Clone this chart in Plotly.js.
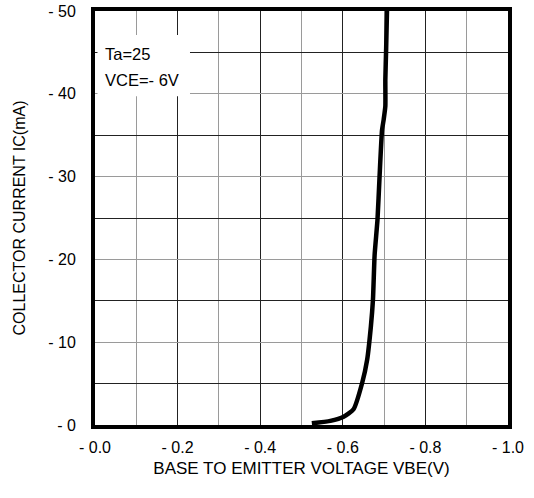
<!DOCTYPE html>
<html>
<head>
<meta charset="utf-8">
<script src="https://cdn.plot.ly/plotly-3.0.1.min.js"></script>
<style>html,body{margin:0;padding:0;background:#fff;}#chart{width:534px;height:498px;}</style>
</head>
<body>
<div id="chart"></div>
<script>
// Data
const vbe = [-0.525, -0.570, -0.602, -0.626, -0.647, -0.659, -0.668, -0.673, -0.677, -0.684, -0.689, -0.695, -0.699, -0.703, -0.703, -0.705, -0.707];
const ic  = [-0.2, -0.5, -1.0, -1.9, -5.1, -7.9, -11.9, -15.1, -20.5, -24.8, -30.0, -35.6, -36.9, -38.5, -41.7, -45.5, -50];

const xTickVals = [0, -0.2, -0.4, -0.6, -0.8, -1.0];
const xTickText = ["- 0.0", "- 0.2", "- 0.4", "- 0.6", "- 0.8", "- 1.0"];
const yTickVals = [0, -10, -20, -30, -40, -50];
const yTickText = ["- 0", "- 10", "- 20", "- 30", "- 40", "- 50"];

const xTitle = "BASE TO EMITTER VOLTAGE VBE(V)";
const yTitle = "COLLECTOR CURRENT IC(mA)";
const noteLines = ["Ta=25", "VCE=- 6V"];

const fam = "Liberation Sans, Arial, sans-serif";
const tickFont = {family: fam, size: 16, color: "#000"};

const trace = {
  x: vbe, y: ic, type: "scatter", mode: "lines",
  line: {color: "#000", width: 4.5, shape: "spline", smoothing: 0.5},
  hoverinfo: "skip", showlegend: false
};

const layout = {
  width: 534, height: 498,
  margin: {l: 95, r: 26, t: 11, b: 73},
  paper_bgcolor: "#fff", plot_bgcolor: "#fff",
  font: tickFont,
  showlegend: false,
  xaxis: {
    range: [0, -1], autorange: false,
    tickvals: xTickVals, ticktext: xTickText,
    tickfont: tickFont,
    ticks: "outside", ticklen: 5, tickcolor: "rgba(0,0,0,0)",
    showgrid: true, gridcolor: "#222", gridwidth: 1,
    minor: {dtick: 0.1, tick0: 0, showgrid: true, gridcolor: "#9a9a9a", gridwidth: 1},
    showline: true, linecolor: "#000", linewidth: 4, mirror: true,
    zeroline: false,
    title: {text: xTitle, font: {family: fam, size: 17, color: "#000"}, standoff: 8}
  },
  yaxis: {
    range: [0, -50], autorange: false,
    tickvals: yTickVals, ticktext: yTickText,
    tickfont: tickFont,
    ticks: "outside", ticklen: 12, tickcolor: "rgba(0,0,0,0)",
    showgrid: true, gridcolor: "#9a9a9a", gridwidth: 1,
    minor: {dtick: 5, tick0: 0, showgrid: true, gridcolor: "#222", gridwidth: 1},
    showline: true, linecolor: "#000", linewidth: 4, mirror: true,
    zeroline: false,
    title: {text: yTitle, font: {family: fam, size: 16, color: "#000"}, standoff: 20}
  },
  shapes: [{
    type: "rect", xref: "x", yref: "y", layer: "above",
    x0: -0.006, x1: -0.230, y0: -47.1, y1: -39.7,
    fillcolor: "#fff", line: {width: 0}
  }],
  annotations: [
    {x: -0.019, y: -44.8, xref: "x", yref: "y", text: noteLines[0], showarrow: false, xanchor: "left", yanchor: "middle", font: {family: fam, size: 16.5, color: "#000"}},
    {x: -0.019, y: -41.7, xref: "x", yref: "y", text: noteLines[1], showarrow: false, xanchor: "left", yanchor: "middle", font: {family: fam, size: 16.5, color: "#000"}}
  ]
};

Plotly.newPlot("chart", [trace], layout, {staticPlot: true, displayModeBar: false});
</script>
</body>
</html>
